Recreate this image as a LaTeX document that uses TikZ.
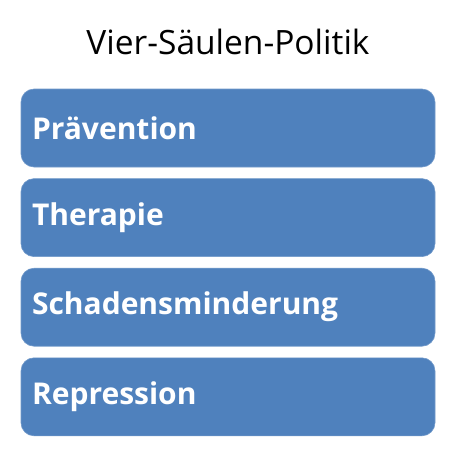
\documentclass[tikz,border=0pt]{standalone}
\usepackage{fontspec}
\setmainfont{Open Sans}
\usetikzlibrary{positioning}
\definecolor{pillarblue}{HTML}{4F81BD}
\tikzset{
    pillar/.style={rectangle, rounded corners=13pt, fill=pillarblue, draw=pillarblue!80!white, line width=0.6pt,
        minimum width=414pt, minimum height=78pt, text width=392pt, inner xsep=11pt, align=left,
        text=white, font=\fontsize{30}{34}\selectfont\bfseries},
    heading/.style={font=\fontsize{33.5}{38}\selectfont, text=black}
}
\begin{document}
\begin{tikzpicture}[x=1pt, y=-1pt]
    \useasboundingbox (0,0) rectangle (456,456);
    % title
    \node[heading] (title) at (228, 42) {Vier-Säulen-Politik};
    % the four pillars
    \node[pillar] (praev) at (228, 128) {Prävention};
    \node[pillar, below=11pt of praev] (thera) {Therapie};
    \node[pillar, below=11pt of thera] (schad) {Schadensminderung};
    \node[pillar, below=11pt of schad] (repr) {Repression};
\end{tikzpicture}
\end{document}
